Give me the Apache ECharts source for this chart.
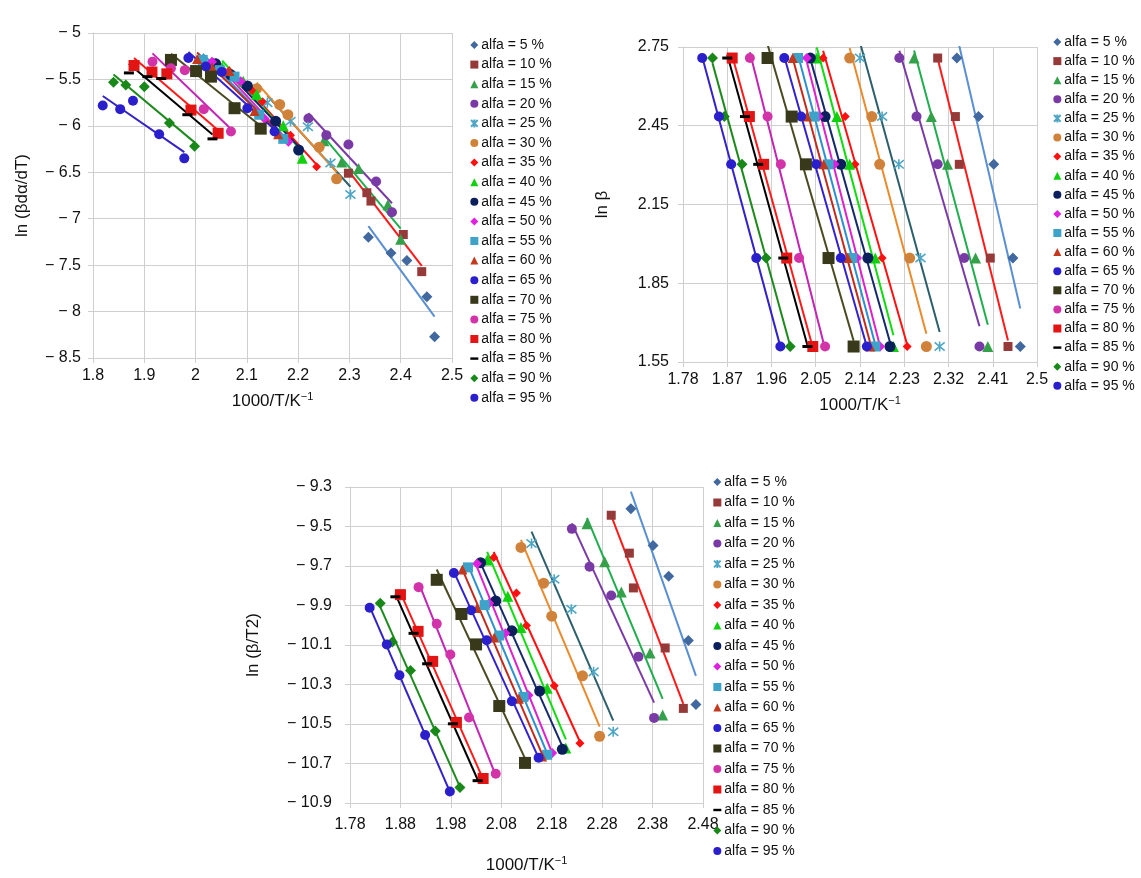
<!DOCTYPE html>
<html>
<head>
<meta charset="utf-8">
<script src="https://cdn.jsdelivr.net/npm/echarts@6/dist/echarts.min.js"></script>
<style>
  html, body { margin: 0; padding: 0; background: #fff; }
  #chart { width: 1141px; height: 878px; }
</style>
</head>
<body>
<div id="chart"></div>
<script>
// legend labels, one per conversion degree
const alfaLabels = ['alfa = 5 %', 'alfa = 10 %', 'alfa = 15 %', 'alfa = 20 %', 'alfa = 25 %',
  'alfa = 30 %', 'alfa = 35 %', 'alfa = 40 %', 'alfa = 45 %', 'alfa = 50 %', 'alfa = 55 %',
  'alfa = 60 %', 'alfa = 65 %', 'alfa = 70 %', 'alfa = 75 %', 'alfa = 80 %', 'alfa = 85 %',
  'alfa = 90 %', 'alfa = 95 %']

// ln(beta) of the heating rates 15, 12, 10, 7, 5 K/min (columns below use this order)
const lnBeta = [2.708, 2.485, 2.303, 1.946, 1.609]

// 1000/T at each alfa (rows) and heating rate (columns)
const invT = [
  [2.337, 2.381, 2.412, 2.451, 2.466],
  [2.298, 2.334, 2.342, 2.405, 2.441],
  [2.250, 2.285, 2.318, 2.375, 2.400],
  [2.220, 2.255, 2.298, 2.352, 2.383],
  [2.140, 2.185, 2.219, 2.263, 2.302],
  [2.119, 2.164, 2.180, 2.241, 2.275],
  [2.065, 2.110, 2.130, 2.185, 2.236],
  [2.052, 2.093, 2.119, 2.171, 2.208],
  [2.039, 2.069, 2.101, 2.156, 2.201],
  [2.032, 2.056, 2.088, 2.134, 2.181],
  [2.014, 2.047, 2.076, 2.124, 2.171],
  [2.003, 2.032, 2.066, 2.115, 2.161],
  [1.986, 2.020, 2.051, 2.101, 2.154],
  [1.952, 2.001, 2.030, 2.076, 2.127],
  [1.916, 1.952, 1.979, 2.016, 2.069],
  [1.880, 1.915, 1.944, 1.991, 2.044],
  [1.870, 1.906, 1.933, 1.984, 2.033],
  [1.840, 1.864, 1.900, 1.949, 1.998],
  [1.819, 1.853, 1.878, 1.929, 1.978]
]

// Friedman plot: ln(beta dα/dT)
const lnBetaRate = [
  [-7.20, -7.37, -7.45, -7.84, -8.27],
  [-6.51, -6.72, -6.81, -7.17, -7.57],
  [-6.16, -6.39, -6.46, -6.85, -7.22],
  [-5.92, -6.10, -6.20, -6.60, -6.93],
  [-5.75, -5.95, -6.01, -6.40, -6.74],
  [-5.60, -5.77, -5.88, -6.23, -6.57],
  [-5.41, -5.62, -5.74, -6.10, -6.44],
  [-5.37, -5.52, -5.66, -6.00, -6.35],
  [-5.33, -5.45, -5.57, -5.95, -6.26],
  [-5.31, -5.42, -5.52, -5.92, -6.17],
  [-5.29, -5.40, -5.47, -5.88, -6.14],
  [-5.28, -5.37, -5.41, -5.84, -6.09],
  [-5.27, -5.36, -5.42, -5.81, -6.06],
  [-5.29, -5.41, -5.47, -5.81, -6.03],
  [-5.31, -5.38, -5.40, -5.82, -6.06],
  [-5.35, -5.42, -5.44, -5.83, -6.08],
  [-5.43, -5.47, -5.49, -5.88, -6.14],
  [-5.53, -5.56, -5.58, -5.97, -6.22],
  [-5.78, -5.82, -5.73, -6.09, -6.35]
]

// KAS plot: ln(beta/T2)
const lnBetaT2 = [
  [-9.410, -9.596, -9.752, -10.077, -10.401],
  [-9.443, -9.635, -9.811, -10.115, -10.421],
  [-9.486, -9.678, -9.832, -10.140, -10.455],
  [-9.512, -9.704, -9.849, -10.159, -10.469],
  [-9.586, -9.767, -9.919, -10.236, -10.539],
  [-9.606, -9.787, -9.954, -10.256, -10.562],
  [-9.657, -9.837, -10.001, -10.306, -10.597],
  [-9.670, -9.853, -10.011, -10.319, -10.622],
  [-9.683, -9.877, -10.028, -10.333, -10.628],
  [-9.689, -9.889, -10.041, -10.354, -10.647],
  [-9.707, -9.898, -10.052, -10.363, -10.656],
  [-9.718, -9.913, -10.062, -10.372, -10.665],
  [-9.735, -9.924, -10.076, -10.385, -10.671],
  [-9.770, -9.943, -10.097, -10.409, -10.697],
  [-9.807, -9.993, -10.148, -10.467, -10.752],
  [-9.845, -10.031, -10.183, -10.492, -10.776],
  [-9.856, -10.041, -10.195, -10.499, -10.787],
  [-9.888, -10.085, -10.229, -10.535, -10.822],
  [-9.911, -10.097, -10.253, -10.556, -10.842]
]

const FONT = 'Arial, "Liberation Sans", Helvetica, sans-serif'
const ASTER = 'path://M0,0L10,10M10,0L0,10M5,-1L5,11'
const DASH = 'path://M0,0H10V3H0Z'

// marker / trendline look per alfa
const looks = [
  { symbol: 'diamond', color: '#41689f', line: '#5a8fd2', size: 11 },
  { symbol: 'rect', color: '#963a39', line: '#ff1a1a', size: 9 },
  { symbol: 'triangle', color: '#35a04a', line: '#1fae4d', size: 11 },
  { symbol: 'circle', color: '#7a3aa6', line: '#7a3aa6', size: 10 },
  { symbol: ASTER, color: '#4fa6c4', line: '#2c5f6b', size: 10, stroke: true },
  { symbol: 'circle', color: '#d0823a', line: '#eb8a2c', size: 11 },
  { symbol: 'diamond', color: '#ff1010', line: '#ff1010', size: 9 },
  { symbol: 'triangle', color: '#10d010', line: '#10dd10', size: 11 },
  { symbol: 'circle', color: '#0b1f5c', line: '#13296b', size: 11 },
  { symbol: 'diamond', color: '#e020e0', line: '#dd22cc', size: 10 },
  { symbol: 'rect', color: '#3ea3c8', line: '#2d8fd0', size: 10 },
  { symbol: 'triangle', color: '#c2391d', line: '#c22a1c', size: 10 },
  { symbol: 'circle', color: '#2a1fcc', line: '#3322cc', size: 10 },
  { symbol: 'rect', color: '#38381a', line: '#4a4a22', size: 12 },
  { symbol: 'circle', color: '#d233a8', line: '#c424b3', size: 10 },
  { symbol: 'rect', color: '#e31414', line: '#ff1a1a', size: 11 },
  { symbol: 'rect', color: '#000000', line: '#000000', size: [10, 3] },
  { symbol: 'diamond', color: '#188818', line: '#1d8a1d', size: 11 },
  { symbol: 'circle', color: '#2b1fcc', line: '#3323c6', size: 10 }
]

// least squares y = k x + b, drawn over the x range of the points
function fitLine(xs, ys) {
  let n = xs.length
  let mx = xs.reduce((a, b) => a + b, 0) / n
  let my = ys.reduce((a, b) => a + b, 0) / n
  let sxy = 0, sxx = 0
  for (let i = 0; i < n; i++) {
    sxy += (xs[i] - mx) * (ys[i] - my)
    sxx += (xs[i] - mx) * (xs[i] - mx)
  }
  let k = sxy / sxx
  let b = my - k * mx
  let x0 = Math.min(...xs), x1 = Math.max(...xs)
  return [[x0, k * x0 + b], [x1, k * x1 + b]]
}

function minus(v, d) {
  let s = Math.abs(v).toFixed(d)
  if (d > 0) s = String(parseFloat(s))
  return v < 0 ? '\u2212 ' + s : s
}

const gridColor = '#cfcfcf'
function valueAxis(idx, opt) {
  return Object.assign({
    type: 'value',
    gridIndex: idx,
    splitLine: { show: true, lineStyle: { color: gridColor, width: 1 } },
    axisLine: { show: true, onZero: false, lineStyle: { color: gridColor } },
    axisTick: { show: true, length: 5, lineStyle: { color: gridColor } },
    axisLabel: { color: '#111', fontSize: 16, fontFamily: FONT },
    nameLocation: 'middle',
    nameTextStyle: {
      color: '#111', fontSize: 17, fontFamily: FONT,
      rich: { sup: { fontSize: 11, fontFamily: FONT, color: '#111', padding: [0, 0, 9, 0] } }
    }
  }, opt)
}

const xName = '1000/T/K{sup|\u22121}'

let panels = [lnBetaRate, lnBeta, lnBetaT2]
let series = []
panels.forEach((ys, p) => {
  alfaLabels.forEach((name, i) => {
    let yrow = p === 1 ? lnBeta : ys[i]
    let look = looks[i]
    let itemStyle = look.stroke
      ? { color: 'rgba(0,0,0,0)', borderColor: look.color, borderWidth: 1.6, opacity: 1 }
      : { color: look.color, opacity: 1 }
    series.push({
      type: 'line',
      name: 'trend ' + p + '-' + i,
      xAxisIndex: p,
      yAxisIndex: p,
      data: fitLine(invT[i], yrow),
      symbol: 'none',
      silent: true,
      lineStyle: { color: look.line, width: 2 },
      z: 2
    })
    series.push({
      type: 'scatter',
      name: name,
      xAxisIndex: p,
      yAxisIndex: p,
      data: invT[i].map((x, k) => [x, yrow[k]]),
      symbol: look.symbol,
      symbolSize: look.size,
      itemStyle: itemStyle,
      z: 3
    })
  })
})

const legendData = alfaLabels.map(n => n === 'alfa = 85 %' ? { name: n, icon: DASH } : n)
function legendAt(left, top, gap) {
  return {
    orient: 'vertical',
    left: left,
    top: top,
    padding: 0,
    itemWidth: 8,
    itemHeight: 8,
    itemGap: gap,
    selectedMode: false,
    textStyle: { color: '#111', fontSize: 14, fontFamily: FONT, lineHeight: 14, padding: [0, 0, 0, -2] },
    data: legendData
  }
}

let chart = echarts.init(document.getElementById('chart'))
chart.setOption({
  animation: false,
  backgroundColor: '#fff',
  grid: [
    { left: 93, top: 33, width: 359, height: 325 },
    { left: 683, top: 47, width: 354, height: 315 },
    { left: 350, top: 487, width: 353, height: 316 }
  ],
  xAxis: [
    valueAxis(0, {
      min: 1.8, max: 2.5, interval: 0.1, name: xName, nameGap: 33,
      axisLabel: { color: '#111', fontSize: 16, fontFamily: FONT, margin: 10, formatter: v => String(parseFloat(v.toFixed(2))) }
    }),
    valueAxis(1, {
      min: 1.78, max: 2.5, interval: 0.09, name: xName, nameGap: 33,
      axisLabel: { color: '#111', fontSize: 16, fontFamily: FONT, margin: 10, formatter: v => String(parseFloat(v.toFixed(2))) }
    }),
    valueAxis(2, {
      min: 1.78, max: 2.48, interval: 0.1, name: xName, nameGap: 52,
      axisLabel: { color: '#111', fontSize: 16, fontFamily: FONT, margin: 14, formatter: v => v.toFixed(2) }
    })
  ],
  yAxis: [
    valueAxis(0, {
      min: -8.5, max: -5, interval: 0.5, name: 'ln (\u03b2d\u03b1/dT)', nameGap: 62,
      axisLabel: { color: '#111', fontSize: 16, fontFamily: FONT, margin: 12, formatter: v => minus(v, 1) }
    }),
    valueAxis(1, {
      min: 1.55, max: 2.75, interval: 0.3, name: 'ln \u03b2', nameGap: 72,
      axisLabel: { color: '#111', fontSize: 16, fontFamily: FONT, margin: 14, formatter: v => v.toFixed(2) }
    }),
    valueAxis(2, {
      min: -10.9, max: -9.3, interval: 0.2, name: 'ln (\u03b2/T2)', nameGap: 88,
      axisLabel: { color: '#111', fontSize: 16, fontFamily: FONT, margin: 18, formatter: v => minus(+v.toFixed(1), 1) }
    })
  ],
  legend: [
    legendAt(470, 38, 5.6),
    legendAt(1053, 35, 5.1),
    legendAt(713, 475, 6.5)
  ],
  series: series
})
</script>
</body>
</html>
